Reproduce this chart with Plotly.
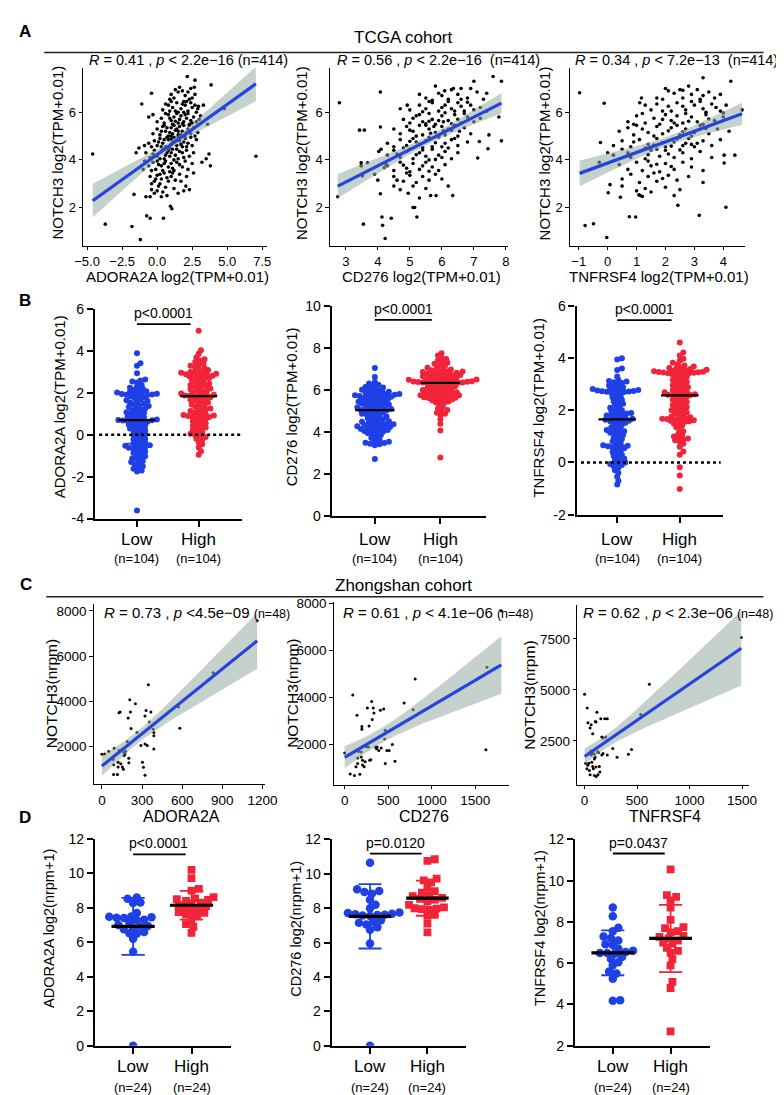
import numpy as np
import plotly.graph_objects as go

W, H = 784, 1095
FONT = "Liberation Sans, Arial, Helvetica, sans-serif"
BLUE = "#1f40e6"
RED = "#f22439"
FITBLUE = "#2443e0"
RIBBON = "rgba(150,172,160,0.55)"

# ======================= DATA =======================
# ---- A: TCGA cohort scatter (NOTCH3 vs gene) ----
a1_points = [
    (-4.6, 4.25), (-3.7, 1.3), (-1.8, 1.2), (-1.2, 0.65), (7.05, 4.15), (3.85, 7.15), (4.8, 6.15), (2.15, 7.5), (2.7, 7.35), (2.65, 7.05),
    (-0.4, 6.8), (-1.1, 6.35), (-0.8, 2.45), (-0.5, 2.45), (-1.65, 2.55), (-0.75, 1.65), (-0.5, 1.55), (0.45, 1.55), (0.95, 2.05), (1.05, 1.95),
    (3.7, 4.25), (3.8, 3.75), (3.2, 3.9), (2.5, 3.85), (2.6, 3.45), (3.5, 4.05), (3.1, 5.85), (3.3, 6.3), (3.6, 5.5), (2.95, 6.25),
    (-1.3, 4.5), (-1.5, 4.3), (-0.9, 4.6), (-0.6, 5.8), (-0.3, 5.9), (-0.9, 3.95), (-1.0, 3.6), (2.3, 2.75), (2.05, 2.9), (1.7, 3.1),
    (1.5, 2.6), (0.3, 2.45), (0.0, 2.7), (0.2, 3.0),
    (1.5, 6.85), (1.8, 6.9), (2.0, 6.7), (1.2, 6.6), (2.3, 6.55), (0.9, 6.55), (1.9, 6.45), (2.5, 6.6), (1.3, 6.95), (1.6, 7.05),
    (2.2, 6.85), (2.7, 6.75), (1.0, 6.75), (2.4, 7.0),
    (0.4, 6.1), (0.8, 6.3), (1.1, 6.2), (1.4, 6.4), (1.7, 6.15), (2.0, 6.3), (2.2, 6.05), (2.5, 6.2), (2.8, 6.0), (0.6, 6.35),
    (1.9, 6.0), (2.4, 6.4), (1.5, 6.0), (1.3, 6.05), (2.1, 6.45), (2.7, 6.3), (1.0, 6.45), (1.8, 6.35), (2.9, 6.15), (0.9, 6.05),
    (0.0, 5.6), (0.3, 5.75), (0.5, 5.55), (0.8, 5.9), (1.0, 5.65), (1.2, 5.8), (1.5, 5.55), (1.7, 5.85), (1.9, 5.6), (2.1, 5.75),
    (2.3, 5.5), (2.6, 5.8), (2.8, 5.6), (3.0, 5.7), (0.6, 5.95), (1.4, 5.95), (2.0, 5.9), (2.4, 5.65), (1.1, 5.5), (1.6, 5.7),
    (2.2, 5.95), (0.9, 5.75), (1.8, 5.52), (2.5, 5.55), (1.3, 5.62),
    (-0.3, 5.1), (0.0, 5.3), (0.2, 5.05), (0.4, 5.4), (0.6, 5.2), (0.8, 5.0), (1.0, 5.35), (1.1, 5.1), (1.3, 5.25), (1.5, 5.05),
    (1.6, 5.4), (1.8, 5.2), (2.0, 5.0), (2.2, 5.3), (2.4, 5.1), (2.6, 5.35), (2.9, 5.15), (0.5, 5.45), (1.9, 5.45), (0.3, 5.2),
    (1.2, 5.45), (2.7, 5.0), (1.4, 5.3), (0.9, 5.15), (1.7, 5.05), (2.1, 5.15), (0.7, 5.35), (2.3, 5.45), (1.5, 5.2), (1.0, 5.0),
    (-0.6, 4.7), (-0.4, 4.55), (-0.2, 4.8), (0.0, 4.6), (0.2, 4.9), (0.4, 4.7), (0.6, 4.55), (0.8, 4.85), (1.0, 4.65), (1.2, 4.95),
    (1.4, 4.6), (1.6, 4.8), (1.8, 4.55), (2.0, 4.9), (2.2, 4.7), (2.5, 4.6), (2.8, 4.85), (0.1, 4.75), (1.5, 4.95), (2.4, 4.95),
    (0.7, 4.95), (1.1, 4.75), (0.5, 4.85), (1.7, 4.65), (0.9, 4.5), (1.3, 4.8), (0.3, 4.55), (1.9, 4.75), (2.1, 4.55), (1.0, 4.88),
    (-0.8, 4.3), (-0.5, 4.1), (-0.2, 4.4), (0.0, 4.15), (0.3, 4.35), (0.5, 4.05), (0.7, 4.3), (0.9, 4.15), (1.1, 4.45), (1.3, 4.2),
    (1.6, 4.35), (1.9, 4.1), (2.1, 4.4), (2.3, 4.15), (2.6, 4.3), (0.2, 4.05), (1.5, 4.05), (0.4, 4.45), (0.8, 4.4), (1.2, 4.0),
    (-0.3, 4.25), (1.0, 4.3), (0.6, 4.2), (1.4, 4.45), (1.8, 4.3),
    (-0.6, 3.75), (-0.3, 3.9), (-0.1, 3.6), (0.1, 3.8), (0.4, 3.55), (0.6, 3.95), (0.8, 3.7), (1.0, 3.85), (1.2, 3.55), (1.4, 3.9),
    (1.8, 3.7), (2.0, 3.95), (2.2, 3.6), (0.9, 3.5), (0.3, 3.75), (-0.4, 3.55), (0.5, 3.85), (1.1, 3.65), (1.6, 3.8), (0.0, 3.95),
    (-0.5, 3.3), (-0.2, 3.1), (0.0, 3.35), (0.3, 3.2), (0.5, 3.45), (0.8, 3.1), (1.0, 3.3), (1.3, 3.15), (1.6, 3.4), (2.1, 3.3),
    (-0.4, 3.0), (0.2, 3.4), (0.7, 3.25), (1.1, 3.45), (-0.1, 3.2),
    (0.6, 2.85), (1.2, 2.8), (-0.2, 2.6), (0.7, 2.5), (1.9, 2.7), (0.1, 2.9), (-0.4, 2.75), (0.4, 2.65),
]
a2_points = [
    (2.8, 6.4), (2.75, 2.45), (3.55, 1.3), (4.08, 6.85), (4.08, 5.38), (3.43, 5.25), (3.58, 5.25), (3.48, 3.88), (3.48, 3.75), (3.68, 3.88),
    (3.52, 3.33), (4.03, 4.35), (4.08, 2.58), (4.13, 1.6), (4.15, 1.25), (4.23, 0.7), (4.42, 1.55), (4.26, 3.8), (4.2, 3.67), (5.1, 2.0),
    (5.15, 2.0), (5.22, 1.6), (5.8, 7.1), (6.09, 6.9), (6.36, 7.0), (6.6, 7.0), (7.0, 7.3), (7.6, 7.5), (7.86, 7.3), (7.78, 5.8),
    (7.86, 4.8), (7.47, 5.05), (7.44, 4.47), (7.12, 4.08), (7.17, 4.77), (6.2, 2.9), (6.34, 2.5), (5.65, 2.5), (5.82, 2.5), (4.7, 6.15),
    (4.92, 6.3), (4.1, 4.45), (3.9, 3.4), (4.0, 3.15),
    (5.5, 6.6), (5.9, 6.8), (6.2, 6.55), (6.5, 6.75), (6.8, 6.6), (7.1, 6.85), (6.3, 6.95), (5.7, 6.5), (6.9, 7.0), (7.3, 6.55),
    (6.0, 6.7), (6.6, 6.55), (7.4, 6.8), (5.3, 6.75),
    (5.0, 6.1), (5.3, 6.3), (5.5, 6.15), (5.7, 6.4), (5.9, 6.05), (6.1, 6.3), (6.3, 6.15), (6.5, 6.4), (6.7, 6.05), (6.9, 6.3),
    (7.2, 6.2), (5.6, 6.45), (6.0, 6.2), (6.6, 6.25), (7.4, 6.05), (6.2, 6.45), (6.8, 6.42), (5.4, 6.02), (7.0, 6.1), (6.4, 6.05),
    (4.8, 5.7), (5.0, 5.55), (5.2, 5.85), (5.4, 5.6), (5.6, 5.95), (5.7, 5.7), (5.8, 5.5), (6.0, 5.85), (6.2, 5.65), (6.4, 5.9),
    (6.6, 5.55), (6.8, 5.8), (7.0, 5.6), (7.2, 5.75), (5.1, 5.75), (5.9, 5.65), (6.5, 5.7), (5.5, 5.52), (6.1, 5.98), (6.3, 5.52),
    (6.7, 5.95), (5.3, 5.9), (5.6, 5.62), (6.05, 5.6),
    (4.5, 5.3), (4.7, 5.1), (4.9, 5.4), (5.1, 5.2), (5.3, 5.45), (5.4, 5.05), (5.6, 5.3), (5.8, 5.15), (6.0, 5.4), (6.1, 5.05),
    (6.3, 5.25), (6.5, 5.0), (6.7, 5.35), (6.9, 5.1), (5.5, 5.45), (5.9, 5.0), (6.4, 5.45), (5.2, 5.0), (5.75, 5.4), (6.2, 5.3),
    (5.0, 5.25), (6.55, 5.2), (5.65, 5.12), (6.05, 5.22),
    (4.3, 4.7), (4.5, 4.55), (4.7, 4.85), (4.9, 4.6), (5.1, 4.9), (5.3, 4.65), (5.5, 4.8), (5.7, 4.55), (5.9, 4.95), (6.1, 4.7),
    (6.3, 4.85), (6.5, 4.6), (6.8, 4.75), (5.6, 4.95), (6.2, 4.5), (4.8, 4.5), (5.2, 4.75), (5.4, 4.52), (5.8, 4.72), (6.0, 4.55),
    (5.0, 4.78), (6.4, 4.9),
    (4.3, 4.2), (4.5, 4.4), (4.7, 4.1), (4.9, 4.35), (5.1, 4.05), (5.3, 4.3), (5.5, 4.15), (5.7, 4.45), (5.9, 4.2), (6.1, 4.35),
    (6.3, 4.05), (6.5, 4.3), (5.0, 4.45), (5.6, 4.0), (5.2, 4.22), (5.8, 4.02), (4.6, 4.25), (5.4, 4.42), (6.0, 4.1),
    (4.3, 3.75), (4.5, 3.55), (4.7, 3.9), (4.9, 3.65), (5.1, 3.85), (5.3, 3.6), (5.5, 3.9), (5.7, 3.7), (5.9, 3.55), (6.1, 3.8),
    (5.0, 3.5), (5.4, 3.75), (4.8, 3.78), (5.6, 3.52),
    (4.5, 3.3), (4.8, 3.1), (5.0, 3.35), (5.2, 3.05), (5.4, 3.3), (5.6, 3.15), (5.8, 3.4), (4.9, 3.45), (6.0, 3.2), (4.6, 3.15),
    (4.7, 2.75), (5.1, 2.9), (4.95, 2.6), (5.3, 2.4), (5.5, 2.8), (4.5, 2.9),
]
a3_points = [
    (-0.97, 6.82), (-0.12, 6.38), (-0.78, 1.24), (-0.49, 1.32), (-0.03, 0.74), (-0.25, 4.73), (-0.29, 3.9), (0.08, 2.96), (0.02, 2.62), (0.44, 2.43),
    (0.75, 1.61), (0.97, 1.6), (1.08, 2.53), (1.2, 2.46), (1.13, 2.5), (2.43, 2.09), (3.17, 1.67), (4.09, 2.01), (4.26, 7.3), (4.65, 6.1),
    (4.4, 4.2), (4.03, 4.2), (4.03, 3.87), (4.0, 5.97), (3.3, 7.45), (2.0, 7.0), (2.6, 6.92), (1.17, 6.6), (1.11, 6.4), (0.0, 4.3),
    (1.9, 6.55), (2.3, 6.8), (2.6, 6.6), (2.9, 6.75), (3.2, 6.55), (3.5, 6.85), (2.1, 6.9), (2.8, 7.1), (3.1, 6.95), (1.7, 6.6),
    (3.7, 6.6), (2.5, 6.95), (3.3, 6.7), (3.9, 6.75),
    (1.3, 6.3), (1.5, 6.1), (1.7, 6.35), (1.9, 6.05), (2.1, 6.25), (2.4, 6.4), (2.7, 6.1), (3.0, 6.3), (3.3, 6.15), (3.6, 6.35),
    (3.9, 6.05), (2.2, 6.05), (2.9, 6.45), (3.4, 6.0), (4.1, 6.3), (2.6, 6.25), (3.2, 6.45), (3.75, 6.2),
    (0.7, 5.6), (1.0, 5.85), (1.3, 5.55), (1.6, 5.75), (1.8, 5.5), (2.0, 5.9), (2.2, 5.65), (2.4, 5.85), (2.6, 5.55), (2.9, 5.8),
    (3.1, 5.6), (3.4, 5.9), (3.7, 5.65), (4.0, 5.8), (1.2, 5.95), (2.7, 5.95), (3.3, 5.5), (0.9, 5.5), (2.3, 5.55), (3.5, 5.72),
    (1.9, 5.7), (2.8, 5.62),
    (0.4, 5.2), (0.7, 5.35), (0.9, 5.05), (1.2, 5.3), (1.4, 5.15), (1.7, 5.4), (1.9, 5.1), (2.2, 5.35), (2.5, 5.05), (2.7, 5.3),
    (3.0, 5.15), (3.2, 5.45), (3.5, 5.1), (3.8, 5.3), (1.0, 5.45), (2.4, 5.45), (2.9, 5.0), (4.2, 5.2), (1.6, 5.0), (2.1, 5.22),
    (2.6, 5.18), (3.4, 5.32),
    (0.2, 4.6), (0.5, 4.8), (0.8, 4.55), (1.1, 4.85), (1.4, 4.65), (1.7, 4.9), (2.0, 4.55), (2.3, 4.75), (2.6, 4.6), (2.8, 4.9),
    (3.0, 4.55), (3.3, 4.8), (3.6, 4.6), (3.9, 4.85), (2.7, 4.7), (2.9, 4.65), (2.5, 4.95), (1.3, 4.5), (1.9, 4.72), (2.2, 4.58),
    (1.6, 4.62), (2.4, 4.88), (0.9, 4.75), (3.1, 4.7),
    (0.2, 4.2), (0.5, 4.45), (0.8, 4.1), (1.1, 4.35), (1.3, 4.05), (1.5, 4.4), (1.8, 4.15), (2.0, 4.4), (2.3, 4.1), (2.6, 4.3),
    (2.9, 4.05), (3.2, 4.35), (3.6, 4.1), (1.7, 4.45), (0.7, 4.3), (2.1, 4.25), (1.4, 4.22), (2.5, 4.42),
    (0.4, 3.8), (0.7, 3.6), (1.0, 3.9), (1.2, 3.55), (1.5, 3.75), (1.8, 3.5), (2.0, 3.85), (2.3, 3.6), (2.6, 3.9), (2.9, 3.7),
    (3.3, 3.55), (1.4, 3.95), (1.7, 3.82), (2.2, 3.72),
    (0.5, 3.2), (0.8, 3.4), (1.1, 3.05), (1.4, 3.3), (1.7, 3.1), (2.1, 3.35), (2.4, 3.15), (2.8, 3.3), (3.3, 3.05), (1.6, 3.45),
    (1.9, 3.22),
    (1.3, 2.8), (1.5, 2.65), (2.0, 2.85), (2.5, 2.75), (0.5, 2.9), (2.3, 2.5), (1.0, 2.7),
]
a_xtitles = ["ADORA2A log2(TPM+0.01)", "CD276 log2(TPM+0.01)", "TNFRSF4 log2(TPM+0.01)"]
a_ytitle = "NOTCH3 log2(TPM+0.01)"
a_stats = ["<i>R</i> = 0.41 , <i>p</i> < 2.2e−16 (n=414)",
           "<i>R</i> = 0.56 , <i>p</i> < 2.2e−16 \u00a0(n=414)",
           "<i>R</i> = 0.34 , <i>p</i> < 7.2e−13 \u00a0(n=414)"]
a1_xticks = [-5.0, -2.5, 0.0, 2.5, 5.0, 7.5]
a2_xticks = [3, 4, 5, 6, 7, 8]
a3_xticks = [-1, 0, 1, 2, 3, 4]
a_yticks = [2, 4, 6]

# ---- B: TCGA low/high groups (n=104 each) ----
b1_low = [3.9, 3.42, 3.3, 2.95, 2.65, 2.6, 2.55, 2.5, 2.38, 2.3,
          2.25, 2.2, 2.16, 2.12, 2.08, 2.05, 2.02, 2.0, 1.98, 1.96, 1.95, 1.93, 1.92, 1.9, 1.88, 1.85, 1.8, 1.75, 1.7, 1.65,
          1.62, 1.58, 1.55, 1.5, 1.46, 1.42, 1.38, 1.33, 1.3, 1.26, 1.22, 1.18, 1.12, 1.08, 1.05,
          1.0, 0.96, 0.92, 0.88, 0.84, 0.8, 0.77, 0.74, 0.71, 0.7, 0.69,
          0.68, 0.66, 0.63, 0.6, 0.57, 0.52, 0.48, 0.44, 0.4, 0.35,
          0.3, 0.26, 0.22, 0.18, 0.12, 0.08, 0.03, -0.02, -0.08, -0.12,
          -0.18, -0.22, -0.28, -0.33, -0.38, -0.42, -0.46, -0.5, -0.52, -0.55,
          -0.58, -0.62, -0.66, -0.7, -0.75, -0.8, -0.86, -0.9, -0.96, -1.02,
          -1.08, -1.12, -1.18, -1.25, -1.3, -1.36, -1.42, -1.5, -1.55, -1.62, -1.7, -1.75, -3.62]
b1_high = [4.98, 4.05, 3.88, 3.7, 3.62, 3.55, 3.48, 3.4, 3.35, 3.3, 3.25, 3.2, 3.15, 3.1, 3.05, 3.02, 3.0, 2.97, 2.95, 2.92,
           2.9, 2.88, 2.86, 2.84, 2.82, 2.8,
           2.76, 2.72, 2.68, 2.64, 2.6, 2.55, 2.5, 2.46, 2.42, 2.38, 2.34, 2.3, 2.26, 2.22, 2.18, 2.14, 2.1, 2.06, 2.02, 1.98,
           1.95, 1.92, 1.9, 1.88, 1.87, 1.86,
           1.84, 1.8, 1.76, 1.72, 1.68, 1.64, 1.6, 1.55, 1.5, 1.45, 1.4, 1.35, 1.3, 1.26, 1.22, 1.18, 1.14, 1.1, 1.05, 1.0,
           0.98, 0.95, 0.92, 0.9, 0.88, 0.86,
           0.84, 0.8, 0.75, 0.7, 0.65, 0.6, 0.55, 0.5, 0.45, 0.4, 0.35, 0.3, 0.25, 0.2, 0.12, 0.05, 0.0, -0.05, -0.1, -0.18,
           -0.25, -0.35, -0.45, -0.6, -0.78, -0.95]
b2_low = [7.05, 6.62, 6.38, 6.32, 6.25, 6.2, 6.15, 6.12, 6.08, 6.05, 6.02, 5.98, 5.95, 5.92, 5.9, 5.88, 5.85, 5.82, 5.8, 5.78,
          5.76, 5.75, 5.74, 5.72, 5.71, 5.7,
          5.68, 5.65, 5.62, 5.6, 5.57, 5.55, 5.52, 5.5, 5.47, 5.45, 5.42, 5.4, 5.37, 5.35, 5.32, 5.3, 5.27, 5.25, 5.22, 5.2,
          5.17, 5.15, 5.12, 5.1, 5.08, 5.06,
          5.04, 5.02, 5.0, 4.97, 4.94, 4.9, 4.87, 4.84, 4.8, 4.77, 4.74, 4.7, 4.66, 4.62, 4.58, 4.55, 4.52, 4.5, 4.47, 4.44,
          4.41, 4.38, 4.36, 4.34, 4.32, 4.3,
          4.28, 4.25, 4.22, 4.2, 4.18, 4.15, 4.12, 4.1, 4.08, 4.05, 4.02, 4.0, 3.95, 3.9, 3.85, 3.8, 3.72, 3.65, 3.6, 3.55,
          3.5, 3.48, 3.45, 3.42, 3.38, 2.72]
b2_high = [7.75, 7.65, 7.55, 7.48, 7.42, 7.36, 7.3, 7.25, 7.2, 7.15, 7.1, 7.06, 7.02, 6.98, 6.95, 6.92, 6.9, 6.88, 6.86, 6.84,
           6.82, 6.8, 6.78, 6.76, 6.74, 6.72,
           6.7, 6.68, 6.66, 6.64, 6.62, 6.6, 6.58, 6.56, 6.54, 6.52, 6.5, 6.49, 6.48, 6.46, 6.45, 6.44, 6.42, 6.41, 6.4, 6.39,
           6.38, 6.37, 6.36, 6.36, 6.35, 6.35,
           6.33, 6.3, 6.28, 6.25, 6.22, 6.2, 6.18, 6.15, 6.12, 6.1, 6.08, 6.05, 6.02, 6.0, 5.98, 5.95, 5.92, 5.9, 5.88, 5.85,
           5.83, 5.82, 5.8, 5.78, 5.76, 5.75,
           5.72, 5.7, 5.68, 5.66, 5.64, 5.62, 5.6, 5.58, 5.55, 5.52, 5.5, 5.46, 5.42, 5.38, 5.3, 5.2, 5.12, 5.05, 5.0, 4.92,
           4.88, 4.82, 4.62, 4.4, 4.08, 2.8]
b3_low = [4.0, 3.95, 3.6, 3.55, 3.3, 3.15, 3.12, 3.1, 3.08, 3.05, 3.0, 2.95, 2.9, 2.88, 2.85, 2.82, 2.8, 2.78, 2.76, 2.75,
          2.74, 2.73, 2.72, 2.71, 2.7, 2.7,
          2.65, 2.6, 2.55, 2.5, 2.45, 2.4, 2.35, 2.3, 2.25, 2.2, 2.15, 2.1, 2.05, 2.0, 1.95, 1.92, 1.9, 1.88, 1.85, 1.82,
          1.8, 1.77, 1.74, 1.71, 1.68, 1.66,
          1.64, 1.62, 1.6, 1.58, 1.55, 1.52, 1.5, 1.45, 1.4, 1.35, 1.3, 1.27, 1.24, 1.2, 1.17, 1.14, 1.1, 1.05, 1.0, 0.95,
          0.9, 0.85, 0.8, 0.75, 0.7, 0.66,
          0.64, 0.62, 0.6, 0.57, 0.54, 0.5, 0.45, 0.4, 0.35, 0.3, 0.25, 0.2, 0.15, 0.1, 0.05, 0.0, -0.03, -0.06, -0.1, -0.15,
          -0.2, -0.3, -0.4, -0.55, -0.7, -0.85]
b3_high = [4.6, 4.22, 4.1, 3.98, 3.9, 3.82, 3.76, 3.72, 3.68, 3.65, 3.62, 3.6, 3.58, 3.56, 3.54, 3.52, 3.5, 3.5, 3.48, 3.47,
           3.46, 3.45, 3.44, 3.43, 3.42, 3.42,
           3.4, 3.36, 3.32, 3.28, 3.24, 3.2, 3.16, 3.12, 3.08, 3.04, 3.0, 2.96, 2.92, 2.88, 2.85, 2.82, 2.78, 2.75, 2.72, 2.69,
           2.66, 2.64, 2.62, 2.6, 2.59, 2.58,
           2.56, 2.52, 2.48, 2.44, 2.4, 2.36, 2.32, 2.28, 2.24, 2.2, 2.16, 2.12, 2.08, 2.04, 2.0, 1.96, 1.92, 1.88, 1.84, 1.8,
           1.76, 1.73, 1.7, 1.68, 1.67, 1.66,
           1.64, 1.62, 1.6, 1.58, 1.55, 1.52, 1.48, 1.42, 1.35, 1.28, 1.2, 1.12, 1.05, 1.0, 0.95, 0.92, 0.88, 0.85, 0.8, 0.72,
           0.6, 0.42, 0.3, -0.18, -0.5, -1.02]
b_ytitles = ["ADORA2A log2(TPM+0.01)", "CD276 log2(TPM+0.01)", "TNFRSF4 log2(TPM+0.01)"]
b1_yticks = [-4, -2, 0, 2, 4, 6]
b2_yticks = [0, 2, 4, 6, 8, 10]
b3_yticks = [-2, 0, 2, 4, 6]
b_pvalues = ["p<0.0001", "p<0.0001", "p<0.0001"]
b_n = ["(n=104)", "(n=104)"]

# ---- C: Zhongshan cohort scatter (n=48) ----
c1_points = [
    (0, 1665), (51, 1780), (85, 1430), (92, 1925), (87, 1200), (87, 765), (116, 765), (121, 1100), (121, 1315), (128, 1825),
    (128, 3495), (136, 3525), (141, 1245), (153, 1100), (160, 1000), (165, 1750), (172, 1680), (165, 1605), (177, 1795), (189, 2230),
    (196, 3265), (201, 1490), (201, 1285), (208, 4075), (213, 3525), (218, 2800), (250, 3890), (262, 2625), (291, 2045), (303, 1315),
    (310, 1085), (322, 735), (322, 2115), (322, 3350), (330, 3595), (339, 2045), (347, 4730), (354, 3090), (366, 3525), (383, 2770),
    (388, 2625), (388, 2480), (388, 1895), (572, 3755), (582, 2815), (831, 5270), (1160, 7560), (20, 1680),
]
c2_points = [
    (0, 1640), (63, 740), (112, 680), (93, 4110), (142, 3250), (149, 1430), (149, 1190), (175, 735), (190, 1680), (190, 1470),
    (205, 1330), (205, 1125), (198, 2765), (198, 2655), (224, 1055), (235, 1265), (261, 3555), (272, 1890), (280, 2790), (287, 1330),
    (310, 3835), (317, 3070), (328, 3555), (336, 3345), (354, 1890), (366, 1820), (373, 1890), (392, 1750), (410, 3460), (448, 3515),
    (459, 2235), (466, 2610), (466, 1195), (485, 1750), (511, 1750), (548, 2000), (578, 1290), (683, 3765), (787, 3485), (810, 4790),
    (1634, 5290), (1623, 1780), (130, 1050), (250, 1900), (160, 1700), (300, 1350), (420, 1850), (1800, 7700),
]
c3_points = [
    (0, 4790), (25, 4115), (31, 3385), (62, 3290), (52, 3130), (77, 2855), (9, 1405), (22, 1130), (40, 1405), (52, 840),
    (62, 1805), (77, 1885), (93, 1855), (93, 1615), (77, 1240), (83, 1130), (108, 1225), (108, 3420), (117, 3905), (102, 3450),
    (123, 1970), (133, 1935), (145, 970), (93, 805), (127, 840), (154, 3580), (164, 2695), (176, 2645), (191, 3580), (164, 1805),
    (176, 1885), (201, 2695), (216, 3580), (216, 1805), (268, 2130), (309, 1695), (417, 1840), (447, 2080), (534, 3790), (617, 5275),
    (1493, 7565), (45, 1050), (68, 1450), (100, 1700), (140, 1250), (60, 2000), (110, 750), (30, 1300),
]
c_xtitles = ["ADORA2A", "CD276", "TNFRSF4"]
c_ytitle = "NOTCH3(nrpm)"
c_stats = ["<i>R</i> = 0.73 , <i>p</i> <4.5e−09 ", "<i>R</i> = 0.61 , <i>p</i> < 4.1e−06 ", "<i>R</i> = 0.62 , <i>p</i> < 2.3e−06 "]
c_n = "(n=48)"
c1_xticks = [0, 300, 600, 900, 1200]
c2_xticks = [0, 500, 1000, 1500]
c3_xticks = [0, 500, 1000, 1500]
c12_yticks = [2000, 4000, 6000, 8000]
c3_yticks = [2500, 5000, 7500]

# ---- D: Zhongshan low/high groups (n=24 each) ----
d1_low = [8.6, 8.52, 8.3, 8.28, 7.7, 7.5, 7.48, 7.45, 7.42, 7.4, 7.3, 7.28, 7.15, 7.0, 6.95, 6.82, 6.75, 6.6, 6.52, 6.5,
          6.2, 5.45, 6.9, 0.0]
d1_high = [10.2, 9.72, 9.1, 9.0, 8.62, 8.55, 8.5, 8.45, 8.4, 8.3, 8.22, 8.15, 8.1, 8.0, 7.95, 7.82, 7.75, 7.7, 7.6, 7.55,
           7.35, 7.05, 6.9, 6.55]
d2_low = [10.65, 9.1, 9.0, 8.95, 8.85, 8.5, 8.2, 8.0, 7.75, 7.72, 7.65, 7.62, 7.6, 7.55, 7.3, 7.2, 7.15, 7.05, 6.9, 6.75,
          5.95, 7.68, 7.58, 0.0]
d2_high = [10.85, 10.75, 9.72, 9.62, 9.5, 9.2, 9.0, 8.9, 8.75, 8.7, 8.6, 8.55, 8.5, 8.4, 8.2, 8.05, 8.0, 7.98, 7.95, 7.9,
           7.62, 7.55, 7.1, 6.6]
d3_low = [8.7, 8.28, 7.72, 7.55, 7.3, 7.22, 7.1, 6.92, 6.88, 6.7, 6.6, 6.55, 6.5, 6.5, 6.45, 6.3, 6.2, 6.05, 5.9, 5.6,
          5.5, 5.25, 4.2, 4.18]
d3_high = [10.55, 9.3, 9.22, 9.05, 8.7, 8.1, 7.75, 7.7, 7.55, 7.5, 7.32, 7.28, 7.1, 7.0, 6.95, 6.75, 6.6, 6.5, 6.2, 5.9,
           5.1, 4.8, 2.7, 7.2]
d_ytitles = ["ADORA2A log2(nrpm+1)", "CD276 log2(nrpm+1)", "TNFRSF4 log2(nrpm+1)"]
d12_yticks = [0, 2, 4, 6, 8, 10, 12]
d3_yticks = [2, 4, 6, 8, 10, 12]
d_pvalues = ["p<0.0001", "p=0.0120", "p=0.0437"]
d_n = ["(n=24)", "(n=24)"]
groups = ["Low", "High"]

# ======================= LAYOUT HELPERS =======================
fig = go.Figure()
layout = dict(width=W, height=H, margin=dict(l=0, r=0, t=0, b=0), showlegend=False,
              plot_bgcolor="white", paper_bgcolor="white", annotations=[], shapes=[])


def fxp(px):
    return px / W


def fyp(py):
    return 1 - py / H


def ann(text, px, py, size, xanchor="center", yanchor="middle", angle=0, color="black"):
    layout["annotations"].append(dict(
        x=fxp(px), y=fyp(py), xref="paper", yref="paper", text=text, showarrow=False,
        font=dict(family=FONT, size=size, color=color), xanchor=xanchor, yanchor=yanchor, textangle=angle))


def add_axes(i, box, xr, yr, kind, xticks=None, yticks=None, xfmt=None, ytext=None, tfs=None):
    l, r, t, b = box
    sfx = "" if i == 1 else str(i)
    if kind == "gg":
        lw, tl, tw, fs = 1.3, 3.5, 1.3, 13
    else:
        lw, tl, tw, fs = 2.2, 6, 2.2, 14
    if tfs:
        fs = tfs
    common = dict(showgrid=False, zeroline=False, showline=True, linecolor="black", linewidth=lw,
                  ticks="outside", ticklen=tl, tickwidth=tw, tickcolor="black",
                  tickfont=dict(family=FONT, size=fs, color="black"), fixedrange=True)
    xa = dict(domain=[fxp(l), fxp(r)], range=xr, anchor="y" + sfx, **common)
    ya = dict(domain=[fyp(b), fyp(t)], range=yr, anchor="x" + sfx, **common)
    if xticks is not None:
        xa.update(tickmode="array", tickvals=xticks)
        if xfmt:
            xa["tickformat"] = xfmt
    else:
        xa.update(tickmode="array", tickvals=[0, 1], showticklabels=False)
    ya.update(tickmode="array", tickvals=yticks)
    if ytext is not None:
        ya["ticktext"] = ytext
    else:
        ya["tickformat"] = "d"
    layout["xaxis" + sfx] = xa
    layout["yaxis" + sfx] = ya
    return "x" + sfx, "y" + sfx


def fit_band(x, y):
    x = np.asarray(x, float)
    y = np.asarray(y, float)
    n = len(x)
    b, a = np.polyfit(x, y, 1)
    xs = np.linspace(x.min(), x.max(), 100)
    yh = a + b * xs
    res = y - (a + b * x)
    s = np.sqrt((res ** 2).sum() / (n - 2))
    sxx = ((x - x.mean()) ** 2).sum()
    df = n - 2
    t = 1.96 + 2.37 / df + 2.8 / df ** 2
    se = s * np.sqrt(1.0 / n + (xs - x.mean()) ** 2 / sxx)
    return xs, yh, yh - t * se, yh + t * se


def scatter_panel(xa, ya, pts, msize):
    x = [p[0] for p in pts]
    y = [p[1] for p in pts]
    fig.add_trace(go.Scatter(x=x, y=y, mode="markers", xaxis=xa, yaxis=ya,
                             marker=dict(size=msize, color="black", line=dict(width=0)), hoverinfo="skip"))
    xs, yh, lo, hi = fit_band(x, y)
    fig.add_trace(go.Scatter(x=list(xs) + list(xs[::-1]), y=list(hi) + list(lo[::-1]), mode="lines",
                             fill="toself", fillcolor=RIBBON, line=dict(width=0), xaxis=xa, yaxis=ya, hoverinfo="skip"))
    fig.add_trace(go.Scatter(x=xs, y=yh, mode="lines", line=dict(color=FITBLUE, width=3.2),
                             xaxis=xa, yaxis=ya, hoverinfo="skip"))


def swarm_offsets(vals, ppy, ppx, diam):
    v = np.asarray(vals, float)
    order = np.argsort(v)
    py_list, px_list = [], []
    off = np.zeros(len(v))
    step = diam * 0.3
    cands = [0.0]
    for k in range(1, 300):
        cands += [k * step, -k * step]
    for i in order:
        yy = v[i] * ppy
        chosen = 0.0
        for cx in cands:
            ok = True
            for qy, qx in zip(py_list, px_list):
                if abs(qy - yy) < diam and (qy - yy) ** 2 + (qx - cx) ** 2 < diam ** 2:
                    ok = False
                    break
            if ok:
                chosen = cx
                break
        py_list.append(yy)
        px_list.append(chosen)
        off[i] = chosen / ppx
    return off


def group_panel(xa, ya, box, xr, yr, low, high, kind):
    l, r, t, b = box
    ppy = (b - t) / (yr[1] - yr[0])
    ppx = (r - l) / (xr[1] - xr[0])
    diam = 6.0 if kind == "B" else 8.5
    coll = 4.0 if kind == "B" else 6.3
    for gi, (vals, col) in enumerate([(low, BLUE), (high, RED)]):
        off = swarm_offsets(vals, ppy, ppx, coll)
        sym = "circle" if (kind == "B" or gi == 0) else "square"
        msz = diam if sym == "circle" else diam - 0.7
        fig.add_trace(go.Scatter(x=gi + off, y=vals, mode="markers", xaxis=xa, yaxis=ya,
                                 marker=dict(size=msz, color=col, symbol=sym, line=dict(width=0)), hoverinfo="skip"))
        v = np.asarray(vals, float)
        if kind == "B":
            center = float(np.median(v))
            q1, q3 = np.percentile(v, [25, 75])
            half, cap, clw, mlw = 0.3, 0.17, 1.6, 2.2
        else:
            center = float(v.mean())
            sd = float(v.std(ddof=1))
            q1, q3 = center - sd, center + sd
            half, cap, clw, mlw = 0.37, 0.2, 1.8, 3.2
        fig.add_trace(go.Scatter(x=[gi, gi, None, gi - cap, gi + cap, None, gi - cap, gi + cap],
                                 y=[q1, q3, None, q1, q1, None, q3, q3], mode="lines",
                                 line=dict(color=col, width=clw), xaxis=xa, yaxis=ya, hoverinfo="skip"))
        fig.add_trace(go.Scatter(x=[gi - half, gi + half], y=[center, center], mode="lines",
                                 line=dict(color="black", width=mlw), xaxis=xa, yaxis=ya, hoverinfo="skip"))
    if yr[0] < 0:
        fig.add_trace(go.Scatter(x=[xr[0] + 0.07, xr[1] - 0.03], y=[0, 0], mode="lines",
                                 line=dict(color="black", width=2.5, dash="dot"), xaxis=xa, yaxis=ya, hoverinfo="skip"))


# ======================= ROW A =======================
a_boxes = [(68, 257, 53, 233), (321.7, 505, 53, 233), (568.3, 748, 53, 233)]
a_xr = [[-5.28, 7.85], [2.51, 8.08], [-1.30, 4.75]]
a_yr = [0.4, 7.85]
a_pts = [a1_points, a2_points, a3_points]
a_xt = [a1_xticks, a2_xticks, a3_xticks]
a_fmt = [".1f", "d", "d"]
a_stat_x = [72, 326.7, 571.7]
a_ytitle_x = [41.7, 293, 543]
for k in range(3):
    xa, ya = add_axes(k + 1, a_boxes[k], a_xr[k], a_yr, "gg", xticks=a_xt[k], yticks=a_yticks, xfmt=a_fmt[k])
    scatter_panel(xa, ya, a_pts[k], 3.6)
    l, r, t, b = a_boxes[k]
    ann(a_stats[k], a_stat_x[k], 45, 14.5, xanchor="left")
    ann(a_xtitles[k], (l + r) / 2 + 2, 264, 15)
    ann(a_ytitle, a_ytitle_x[k], (t + b) / 2 - 4, 15, angle=-90)

# ======================= ROW B =======================
b_boxes = [(80, 231.7, 297.7, 510), (323.3, 481.7, 294.3, 507.7), (575, 725, 294.3, 506)]
b_xr = [[-0.683, 1.71], [-0.66, 1.694], [-0.649, 1.684]]
b_yr = [[-4, 6], [0, 10], [-2, 6]]
b_yt = [b1_yticks, b2_yticks, b3_yticks]
b_data = [(b1_low, b1_high), (b2_low, b2_high), (b3_low, b3_high)]
b_bracket_y = [5.29, 9.34, 5.46]
b_ytitle_x = [43.3, 281.7, 535.7]
for k in range(3):
    xa, ya = add_axes(k + 4, b_boxes[k], b_xr[k], b_yr[k], "gp", yticks=b_yt[k],
                      ytext=[str(v) for v in b_yt[k]])
    group_panel(xa, ya, b_boxes[k], b_xr[k], b_yr[k], b_data[k][0], b_data[k][1], "B")
    fig.add_trace(go.Scatter(x=[0, 0.87], y=[b_bracket_y[k]] * 2, mode="lines", line=dict(color="black", width=1.8),
                             xaxis=xa, yaxis=ya, hoverinfo="skip"))
    layout["annotations"].append(dict(x=0.43, y=b_bracket_y[k], xref=xa, yref=ya, text=b_pvalues[k], showarrow=False,
                                      yanchor="bottom", yshift=1, font=dict(family=FONT, size=14, color="black")))
    l, r, t, b = b_boxes[k]
    ppx = (r - l) / (b_xr[k][1] - b_xr[k][0])
    for gi in range(2):
        cx = l + (gi - b_xr[k][0]) * ppx
        ann(groups[gi], cx, 531.5, 17)
        ann(b_n[gi], cx, 550.5, 13)
    ann(b_ytitles[k], b_ytitle_x[k], 397, 15, angle=-90)

# ======================= ROW C =======================
c_boxes = [(79, 255, 597, 779.5), (325.7, 505.7, 595, 780), (575.7, 752.3, 598, 780)]
c_xr = [[-60, 1220], [-123, 1890], [-70, 1568]]
c_yr = [[344, 8290], [292, 8060], [358, 9144]]
c_pts = [c1_points, c2_points, c3_points]
c_xt = [c1_xticks, c2_xticks, c3_xticks]
c_yt = [c12_yticks, c12_yticks, c3_yticks]
c_stat_x = [87.3, 333.3, 580]
c_ytitle_x = [35, 283, 527]
for k in range(3):
    xa, ya = add_axes(k + 7, c_boxes[k], c_xr[k], c_yr[k], "gg", xticks=c_xt[k], yticks=c_yt[k], xfmt="d", tfs=13.5)
    scatter_panel(xa, ya, c_pts[k], 3.0)
    l, r, t, b = c_boxes[k]
    ann(c_stats[k] + "<span style='font-size:12.5px'>" + c_n + "</span>", c_stat_x[k], 605, 15, xanchor="left")
    ann(c_xtitles[k], (l + r) / 2 + 2, 812, 16)
    ann(c_ytitle, c_ytitle_x[k], (t + b) / 2, 15.5, angle=-90)

# ======================= ROW D =======================
d_boxes = [(80, 220, 835, 1045), (323.3, 461.7, 835.7, 1045), (573.3, 711.7, 835.7, 1045)]
d_xr = [[-0.655, 1.678], [-0.668, 1.678], [-0.655, 1.676]]
d_yr = [[0, 12], [0, 12], [2, 12]]
d_yt = [d12_yticks, d12_yticks, d3_yticks]
d_data = [(d1_low, d1_high), (d2_low, d2_high), (d3_low, d3_high)]
d_bracket_y = [11.1, 11.18, 11.32]
d_ytitle_x = [33.3, 287, 538]
for k in range(3):
    xa, ya = add_axes(k + 10, d_boxes[k], d_xr[k], d_yr[k], "gp", yticks=d_yt[k],
                      ytext=[str(v) for v in d_yt[k]])
    group_panel(xa, ya, d_boxes[k], d_xr[k], d_yr[k], d_data[k][0], d_data[k][1], "D")
    fig.add_trace(go.Scatter(x=[0, 0.9], y=[d_bracket_y[k]] * 2, mode="lines", line=dict(color="black", width=1.8),
                             xaxis=xa, yaxis=ya, hoverinfo="skip"))
    layout["annotations"].append(dict(x=0.44, y=d_bracket_y[k], xref=xa, yref=ya, text=d_pvalues[k], showarrow=False,
                                      yanchor="bottom", yshift=1, font=dict(family=FONT, size=14, color="black")))
    l, r, t, b = d_boxes[k]
    ppx = (r - l) / (d_xr[k][1] - d_xr[k][0])
    for gi in range(2):
        cx = l + (gi - d_xr[k][0]) * ppx
        ann(groups[gi], cx, 1066.5, 17)
        ann(d_n[gi], cx, 1087, 13)
    ann(d_ytitles[k], d_ytitle_x[k], 926, 14.5, angle=-90)

# ======================= HEADERS =======================
ann("<b>A</b>", 8, 16, 17)
ann("TCGA cohort", 397, 22, 17)
layout["shapes"].append(dict(type="line", xref="paper", yref="paper", x0=fxp(28), x1=fxp(767), y0=fyp(37), y1=fyp(37),
                             line=dict(color="#222", width=1.6)))
ann("<b>B</b>", 8, 289, 17)
ann("<b>C</b>", 9, 577, 17)
ann("Zhongshan cohort", 397, 578, 17)
layout["shapes"].append(dict(type="line", xref="paper", yref="paper", x0=fxp(30), x1=fxp(767), y0=fyp(589.3), y1=fyp(589.3),
                             line=dict(color="#222", width=1.6)))
ann("<b>D</b>", 8, 813, 17)

fig.update_layout(**layout)
fig.write_html("out.html")
